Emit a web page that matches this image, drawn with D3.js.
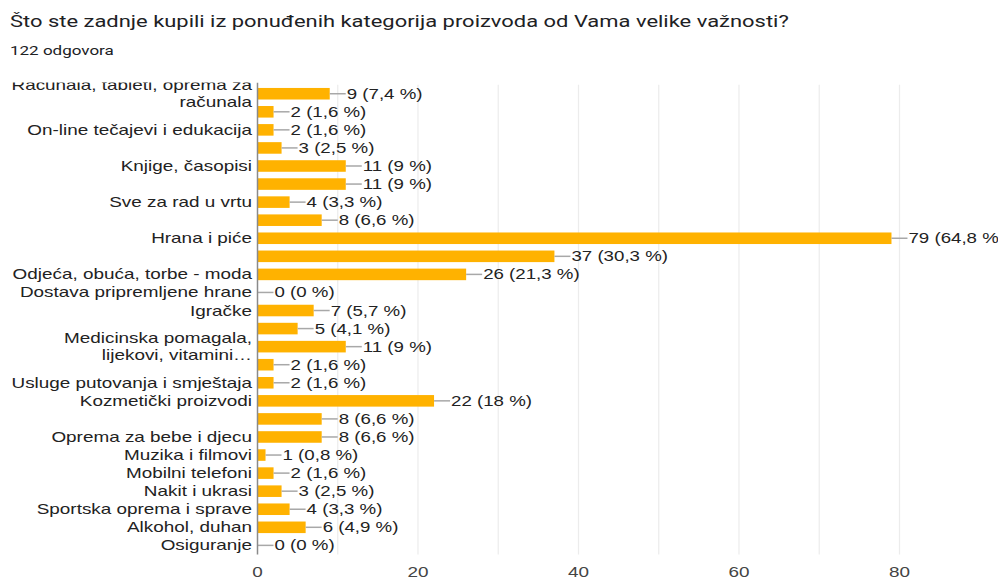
<!DOCTYPE html>
<html>
<head>
<meta charset="utf-8">
<script src="https://cdn.jsdelivr.net/npm/d3@7/dist/d3.min.js"></script>
<style>
  html, body { margin: 0; padding: 0; background: #fff; }
  svg { display: block; }
</style>
</head>
<body>
<svg id="chart" width="1001" height="580"></svg>
<script>
// Survey question and respondent count
const title = "Što ste zadnje kupili iz ponuđenih kategorija proizvoda od Vama velike važnosti?";
const respondents = 122;
const subtitle = respondents + " odgovora";

// One row per category; empty names are rows whose label the axis skips
const categories = [
  "Računala, tableti, oprema za računala", "", "On-line tečajevi i edukacija", "",
  "Knjige, časopisi", "", "Sve za rad u vrtu", "", "Hrana i piće", "",
  "Odjeća, obuća, torbe - moda", "Dostava pripremljene hrane", "Igračke", "",
  "Medicinska pomagala, lijekovi, vitamini…", "", "Usluge putovanja i smještaja",
  "Kozmetički proizvodi", "", "Oprema za bebe i djecu", "Muzika i filmovi",
  "Mobilni telefoni", "Nakit i ukrasi", "Sportska oprema i sprave",
  "Alkohol, duhan", "Osiguranje"
];
const counts = [9, 2, 2, 3, 11, 11, 4, 8, 79, 37, 26, 0, 7, 5, 11, 2, 2, 22, 8, 8, 1, 2, 3, 4, 6, 0];
const gridTicks = [0, 10, 20, 30, 40, 50, 60, 70, 80];
const axisLabels = [0, 20, 40, 60, 80];

// Text is drawn horizontally widened
const SX = 1.35;
const svg = d3.select("#chart");
const defs = svg.append("defs");

function stretchedText(sel, x, y, sx = SX) {
  return sel.attr("x", 0).attr("y", 0)
    .attr("transform", `translate(${x},${y}) scale(${sx},1)`);
}

// Header
stretchedText(svg.append("text"), 10, 27, 1.33)
  .text(title)
  .style("font-family", "Roboto, 'Noto Sans', sans-serif")
  .style("font-size", "16.5px")
  .style("fill", "#202124");
stretchedText(svg.append("text"), 10, 55, 1.31)
  .text(subtitle)
  .style("font-family", "Roboto, 'Noto Sans', sans-serif")
  .style("font-size", "13px")
  .style("fill", "#202124");

// Scales
const x = d3.scaleLinear().domain([0, 80]).range([257.5, 899.5]);
const y = d3.scaleBand()
  .domain(d3.range(categories.length))
  .range([84.7, 554.4])
  .paddingInner(0.36)
  .paddingOuter(0.18);

const plotTop = 84.7, plotBottom = 554.4;
const labelFont = "'Liberation Sans', Arial, sans-serif";

// Vertical gridlines
svg.append("g").selectAll("line")
  .data(gridTicks.filter(d => d !== 0))
  .join("line")
  .attr("x1", d => x(d)).attr("x2", d => x(d))
  .attr("y1", plotTop).attr("y2", plotBottom)
  .attr("stroke", "#ececec").attr("stroke-width", 1.2);

// Bars
svg.append("g").selectAll("rect")
  .data(counts)
  .join("rect")
  .attr("x", x(0))
  .attr("y", (d, i) => y(i))
  .attr("width", d => x(d) - x(0))
  .attr("height", y.bandwidth())
  .attr("fill", "#ffb200");

// Leader lines and value annotations (the chart frame ends just before the page edge)
const fmtPct = v => {
  const p = Math.round(v / respondents * 1000) / 10;
  return String(p).replace(".", ",");
};
defs.append("clipPath").attr("id", "rightClip")
  .append("rect").attr("x", 0).attr("y", 0).attr("width", 998).attr("height", 580);
const ann = svg.append("g").attr("clip-path", "url(#rightClip)");

counts.forEach((v, i) => {
  const cy = y(i) + y.bandwidth() / 2;
  const x0 = x(v);
  ann.append("line")
    .attr("x1", x0).attr("x2", x0 + 16)
    .attr("y1", cy).attr("y2", cy)
    .attr("stroke", "#a8a8a8").attr("stroke-width", 1.5);
  stretchedText(ann.append("text"), x0 + 17, cy + 5, 1.335)
    .text(`${v} (${fmtPct(v)} %)`)
    .style("font-family", labelFont)
    .style("font-size", "14px")
    .style("fill", "#222");
});

// Zero baseline
svg.append("line")
  .attr("x1", x(0)).attr("x2", x(0))
  .attr("y1", plotTop - 2).attr("y2", plotBottom)
  .attr("stroke", "#8a8a8a").attr("stroke-width", 1.5);

// Category labels, wrapped to the label column and clipped to the plot top
defs.append("clipPath").attr("id", "labelClip")
  .append("rect").attr("x", 0).attr("y", 82.5).attr("width", 1001).attr("height", 497);
const labels = svg.append("g").attr("clip-path", "url(#labelClip)");
const maxLabelWidth = (252 - 8) / SX;

categories.forEach((name, i) => {
  if (!name) return;
  const cy = y(i) + y.bandwidth() / 2;
  // word wrap using measured widths
  const probe = labels.append("text")
    .style("font-family", labelFont).style("font-size", "14px");
  const words = name.split(" ");
  const lines = [];
  let cur = "";
  words.forEach(w => {
    const test = cur ? cur + " " + w : w;
    probe.text(test);
    if (probe.node().getComputedTextLength() > maxLabelWidth && cur) {
      lines.push(cur);
      cur = w;
    } else {
      cur = test;
    }
  });
  lines.push(cur);
  probe.remove();
  const lh = 17.4;
  lines.forEach((ln, k) => {
    const by = cy + 5 + (k - (lines.length - 1) / 2) * lh;
    stretchedText(labels.append("text"), 252, by)
      .attr("text-anchor", "end")
      .text(ln)
      .style("font-family", labelFont)
      .style("font-size", "14px")
      .style("fill", "#222");
  });
});

// Horizontal axis labels
axisLabels.forEach(t => {
  stretchedText(svg.append("text"), x(t), 576.7)
    .attr("text-anchor", "middle")
    .text(t)
    .style("font-family", labelFont)
    .style("font-size", "14px")
    .style("fill", "#444");
});
</script>
</body>
</html>
